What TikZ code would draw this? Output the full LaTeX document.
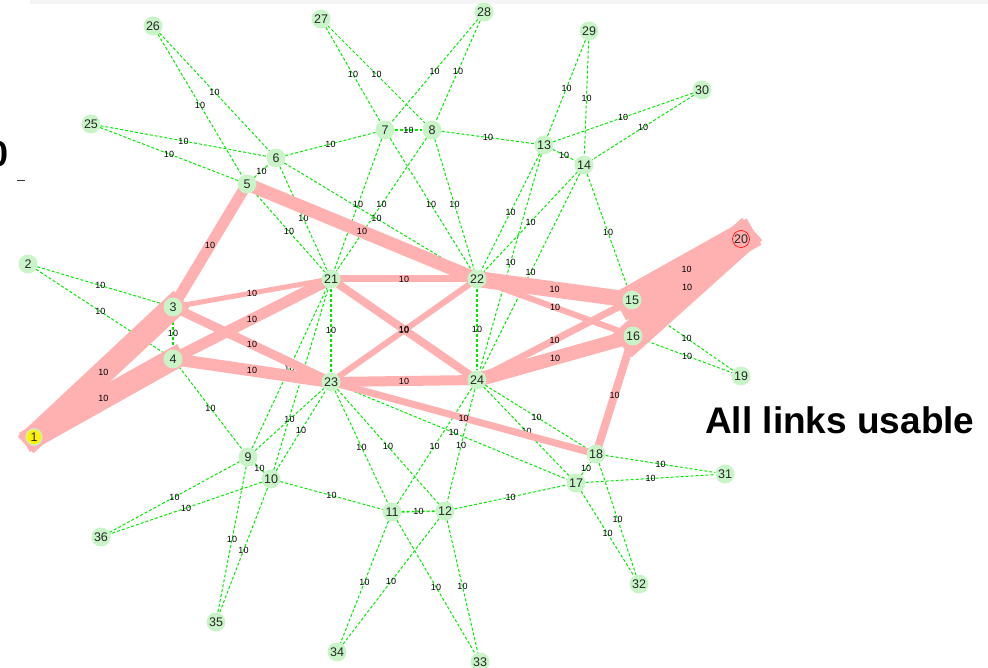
\documentclass[tikz,border=0pt]{standalone}
\usepackage{fontspec}
\setmainfont{Liberation Sans}
\pgfdeclarelayer{bg}
\pgfdeclarelayer{mid}
\pgfdeclarelayer{midlbl}
\pgfsetlayers{bg,mid,midlbl,main}
\definecolor{pinkband}{RGB}{255,176,176}
\definecolor{nodegreen}{RGB}{200,244,200}
\definecolor{dashgreen}{RGB}{0,235,0}
\definecolor{topstrip}{RGB}{244,244,244}
\tikzset{
  nd/.style={circle, fill=nodegreen, minimum size=19pt, inner sep=0pt, font=\fontsize{12.5}{12.5}\selectfont, text=black!85},
  gedge/.style={dashgreen, line width=1pt, dash pattern=on 3pt off 2pt},
  straightedge/.style={gedge, line width=1.6pt},
  pedge/.style={pinkband, line cap=rect},
  lbl/.style={font=\fontsize{9}{9}\selectfont, inner sep=0pt, text=black},
}
\begin{document}
\begin{tikzpicture}[x=1pt,y=-1pt]
\useasboundingbox (0,0) rectangle (988,668);
\fill[topstrip] (30,0) rectangle (988,4);
% nodes
\node[nd, fill=yellow, draw=nodegreen, line width=1.2pt, minimum size=16pt] (n1) at (34,437) {1};
\node[nd] (n2) at (28,264) {2};
\node[nd] (n3) at (173,307) {3};
\node[nd] (n4) at (173,359) {4};
\node[nd] (n5) at (247,184) {5};
\node[nd] (n6) at (276,158) {6};
\node[nd] (n7) at (385,130) {7};
\node[nd] (n8) at (432,130) {8};
\node[nd] (n9) at (248,457) {9};
\node[nd] (n10) at (271,479) {10};
\node[nd] (n11) at (392,512) {11};
\node[nd] (n12) at (445,511) {12};
\node[nd] (n13) at (544,145) {13};
\node[nd] (n14) at (584,165) {14};
\node[nd] (n15) at (632,300) {15};
\node[nd] (n16) at (633,336) {16};
\node[nd] (n17) at (576,483) {17};
\node[nd] (n18) at (596,454) {18};
\node[nd] (n19) at (741,376) {19};
\node[nd, fill=pinkband, draw=red, line width=0.6pt, minimum size=17pt] (n20) at (741,239) {20};
\node[nd] (n21) at (331,279) {21};
\node[nd] (n22) at (477,279) {22};
\node[nd] (n23) at (331,382) {23};
\node[nd] (n24) at (477,380) {24};
\node[nd] (n25) at (91,124) {25};
\node[nd] (n26) at (153,26) {26};
\node[nd] (n27) at (321,19) {27};
\node[nd] (n28) at (484,12) {28};
\node[nd] (n29) at (589,31) {29};
\node[nd] (n30) at (702,90) {30};
\node[nd] (n31) at (725,474) {31};
\node[nd] (n32) at (639,584) {32};
\node[nd] (n33) at (480,662) {33};
\node[nd] (n34) at (337,652) {34};
\node[nd] (n35) at (216,622) {35};
\node[nd] (n36) at (101,537) {36};
% green dashed links
\begin{pgfonlayer}{bg}
\foreach \a/\b in {25/6,25/5,26/6,26/5,5/6,6/7,27/7,27/8,28/7,28/8,8/13,29/13,29/14,30/13,30/14,13/14,
  6/21,5/21,6/22,7/21,8/21,7/22,8/22,13/22,14/22,13/24,14/24,14/15,15/16,15/19,16/19,2/3,2/4,4/9,
  9/21,10/21,9/23,10/23,24/18,24/17,23/17,23/11,23/12,24/11,24/12,10/11,12/17,17/18,
  18/31,17/31,18/32,17/32,11/34,12/34,11/33,12/33,9/35,10/35,9/36,10/36,9/10}
  \draw[gedge] (n\a) -- (n\b) node[midway, lbl] {10};
\foreach \a/\b in {7/8,3/4,21/23,22/24,11/12}
  \draw[straightedge] (n\a) -- (n\b) node[midway, lbl] {10};
\end{pgfonlayer}
% pink used links
\begin{pgfonlayer}{mid}
\foreach \a/\b/\w in {1/3/23,1/4/22,3/5/11,5/22/13,3/21/5,4/21/11,3/23/9,4/23/12,21/22/7,21/24/8,22/23/6,
  23/24/10,22/15/16,22/16/6,24/15/7,24/16/14,23/18/7,16/18/8,15/20/30,16/20/30}
  \draw[pedge, line width=\w pt] (n\a.center) -- (n\b.center);
\end{pgfonlayer}
\begin{pgfonlayer}{midlbl}
\foreach \a/\b in {1/3,1/4,3/5,5/22,3/21,4/21,3/23,4/23,21/22,21/24,22/23,
  23/24,22/15,22/16,24/15,24/16,23/18,16/18,15/20,16/20}
  \path (n\a.center) -- (n\b.center) node[midway, lbl] {10};
\end{pgfonlayer}
% texts
\node[anchor=base west, inner sep=0pt, font=\bfseries\fontsize{37}{40}\selectfont] (title) at (705,433) {All links usable};
\node[anchor=base east, inner sep=0pt, font=\bfseries\fontsize{36}{36}\selectfont] (cut) at (9,167) {0};
\coordinate (u1) at (17,180);
\coordinate (u2) at (25,180);
\draw[black!80, line width=0.8pt] (u1) -- (u2);
\end{tikzpicture}
\end{document}
